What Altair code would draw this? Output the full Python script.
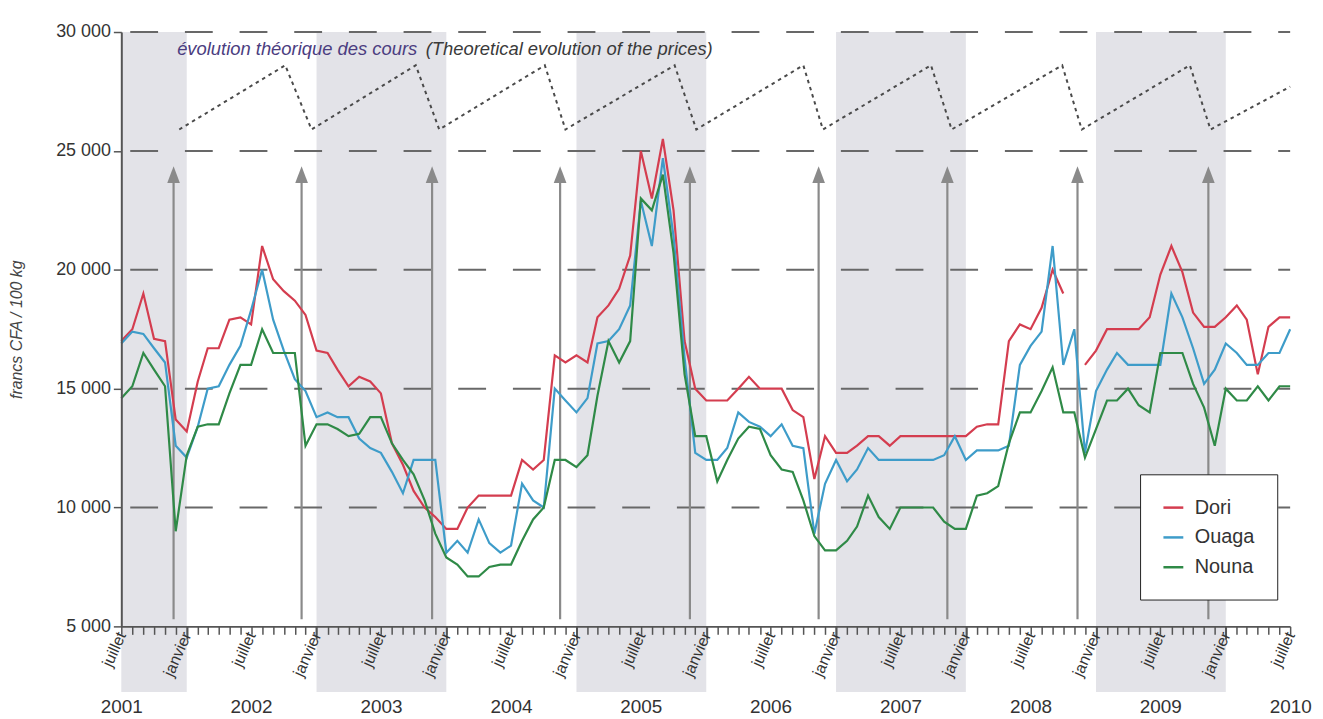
import altair as alt
import pandas as pd

FONT = "Liberation Sans Narrow, Arial Narrow, Liberation Sans, Arial, sans-serif"
ANN_FONT = "Liberation Sans, Arial, sans-serif"

# monthly observations, July 2001 .. July 2010
month_dates = [d.strftime("%Y-%m-%d") for d in pd.date_range("2001-07-01", "2010-07-01", freq="MS")]

cities = ["Dori", "Ouaga", "Nouna"]
city_colors = ["#d43d4f", "#3e9cc9", "#2f8a47"]

dori = [
    17000, 17500, 19000, 17100, 17000, 13700, 13200, 15300, 16700, 16700,
    17900, 18000, 17700, 21000, 19600, 19100, 18700, 18100, 16600, 16500,
    15800, 15100, 15500, 15300, 14800, 12700, 11800, 10700, 10000, 9600,
    9100, 9100, 10000, 10500, 10500, 10500, 10500, 12000, 11600, 12000,
    16400, 16100, 16400, 16100, 18000, 18500, 19200, 20600, 25000, 23000,
    25500, 22500, 17000, 15000, 14500, 14500, 14500, 15000, 15500, 15000,
    15000, 15000, 14100, 13800, 11200, 13000, 12300, 12300, 12600, 13000,
    13000, 12600, 13000, 13000, 13000, 13000, 13000, 13000, 13000, 13400,
    13500, 13500, 17000, 17700, 17500, 18400, 20000, 19000, None, 16000,
    16600, 17500, 17500, 17500, 17500, 18000, 19800, 21000, 19900, 18200,
    17600, 17600, 18000, 18500, 17900, 15600, 17600, 18000, 18000,
]
ouaga = [
    16900, 17400, 17300, 16700, 16100, 12600, 12100, 13400, 15000, 15100,
    16000, 16800, 18300, 20000, 17900, 16600, 15400, 14900, 13800, 14000,
    13800, 13800, 12900, 12500, 12300, 11500, 10600, 12000, 12000, 12000,
    8100, 8600, 8100, 9500, 8500, 8100, 8400, 11000, 10300, 10000,
    15000, 14500, 14000, 14600, 16900, 17000, 17500, 18500, 22900, 21000,
    24700, 21400, 16300, 12300, 12000, 12000, 12500, 14000, 13600, 13400,
    13000, 13500, 12600, 12500, 8900, 11000, 12000, 11100, 11600, 12500,
    12000, 12000, 12000, 12000, 12000, 12000, 12200, 13000, 12000, 12400,
    12400, 12400, 12600, 16000, 16800, 17400, 21000, 16000, 17500, 12300,
    14900, 15800, 16500, 16000, 16000, 16000, 16000, 19000, 18000, 16700,
    15200, 15800, 16900, 16500, 16000, 16000, 16500, 16500, 17500,
]
nouna = [
    14600, 15100, 16500, 15800, 15100, 9000, 12200, 13400, 13500, 13500,
    14800, 16000, 16000, 17500, 16500, 16500, 16500, 12600, 13500, 13500,
    13300, 13000, 13100, 13800, 13800, 12700, 12000, 11400, 10300, 8900,
    7900, 7600, 7100, 7100, 7500, 7600, 7600, 8600, 9500, 10000,
    12000, 12000, 11700, 12200, 14700, 17000, 16100, 17000, 23000, 22500,
    24000, 20700, 15600, 13000, 13000, 11100, 12000, 12900, 13400, 13300,
    12200, 11600, 11500, 10300, 8800, 8200, 8200, 8600, 9200, 10500,
    9600, 9100, 10000, 10000, 10000, 10000, 9400, 9100, 9100, 10500,
    10600, 10900, 12700, 14000, 14000, 14900, 15900, 14000, 14000, 12100,
    13300, 14500, 14500, 15000, 14300, 14000, 16500, 16500, 16500, 15200,
    14200, 12600, 15000, 14500, 14500, 15100, 14500, 15100, 15100,
]

# shaded periods
band_start = ["2001-07-01", "2003-01-01", "2005-01-01", "2007-01-01", "2009-01-01"]
band_end = ["2002-01-01", "2004-01-01", "2006-01-01", "2008-01-01", "2010-01-01"]

# vertical arrows
arrow_dates = ["2001-11-25", "2002-11-20", "2003-11-22", "2004-11-16", "2005-11-16",
               "2006-11-13", "2007-11-10", "2008-11-10", "2009-11-13"]
ARROW_FROM, ARROW_TO, ARROW_HEAD = 5300, 23700, 24000

# theoretical evolution of prices (dotted saw-tooth)
saw_dates = ["2001-12-11", "2002-10-05", "2002-12-18", "2003-10-07", "2003-12-12",
             "2004-10-04", "2004-12-01", "2005-10-04", "2005-12-04", "2006-10-01",
             "2006-11-25", "2007-09-25", "2007-11-22", "2008-09-28", "2008-11-22",
             "2009-09-22", "2009-11-19", "2010-07-01"]
saw_values = [25900, 28600, 25900, 28600, 25900, 28600, 25900, 28600, 25900, 28600,
              25900, 28600, 25900, 28600, 25900, 28600, 25900, 27700]

grid_values = [10000, 15000, 20000, 25000, 30000]
y_ticks = [5000, 10000, 15000, 20000, 25000, 30000]


def ms(d):
    return int(pd.Timestamp(d, tz="UTC").value // 10**6)


all_months = [ms(d) for d in month_dates]
jan_months = [ms(d) for d in month_dates if d[5:7] == "01"]
jul_months = [ms(d) for d in month_dates if d[5:7] == "07"]
half_years = [ms(d) for d in month_dates if d[5:7] in ("01", "07")]

rows = []
for city, vals in zip(cities, [dori, ouaga, nouna]):
    seg = 0
    for d, v in zip(month_dates, vals):
        if v is None:
            seg += 1
            continue
        rows.append({"date": d, "price": v, "city": city, "seg": f"{city}{seg}"})
prices = pd.DataFrame(rows)

bands_df = pd.DataFrame({"start": band_start, "end": band_end})
arrows_df = pd.DataFrame({"date": arrow_dates, "lo": ARROW_FROM, "hi": ARROW_TO, "head": ARROW_HEAD})
saw_df = pd.DataFrame({"date": saw_dates, "v": saw_values})
grid_df = pd.DataFrame({"v": grid_values})

xs = alt.Scale(type="utc", domain=[ms("2001-07-01"), ms("2010-07-01")])
ys = alt.Scale(domain=[5000, 30000], nice=False, zero=False)
AX = "#555555"

bands = alt.Chart(bands_df).mark_rect(color="#e3e3e8").encode(
    x=alt.X("start:T", scale=xs, axis=alt.Axis(
        orient="bottom", values=all_months, labels=False, tickSize=8, tickWidth=1.5,
        tickColor=AX, domainColor=AX, domainWidth=2, grid=False, title=None, zindex=1)),
    x2="end:T",
    y=alt.value(0),
    y2=alt.value(664),
)

grid = alt.Chart(grid_df).mark_rule(
    color="#686868", strokeWidth=2, strokeDash=[28, 27], strokeDashOffset=16
).encode(
    y=alt.Y("v:Q", scale=ys, axis=alt.Axis(
        values=y_ticks, labelExpr="replace(format(datum.value, ','), ',', ' ')",
        tickSize=8, tickWidth=1.5, tickColor=AX, domainColor=AX, domainWidth=2,
        grid=False, labelFont=FONT, labelFontSize=18, labelColor="#333333", labelPadding=3,
        title="francs CFA / 100 kg", titleFont=FONT, titleFontStyle="italic",
        titleFontWeight="normal", titleFontSize=16, titleColor="#444444",
        titleX=-105, titleY=299, titleAngle=270, titleBaseline="middle", zindex=1)),
)

arrows = alt.Chart(arrows_df).mark_rule(color="#8a8a8a", strokeWidth=2.2).encode(
    x=alt.X("date:T", scale=xs, axis=alt.Axis(
        orient="bottom", values=jan_months, labels=False, tickSize=13, tickWidth=2,
        tickColor=AX, domain=False, grid=False, title=None, zindex=1)),
    y=alt.Y("lo:Q", scale=ys, axis=None),
    y2="hi:Q",
)

heads = alt.Chart(arrows_df).mark_point(
    shape="M0,-1L0.75,1L-0.75,1Z", size=289, filled=True, color="#8a8a8a", opacity=1
).encode(
    x=alt.X("date:T", scale=xs, axis=None),
    y=alt.Y("head:Q", scale=ys, axis=None),
)

saw = alt.Chart(saw_df).mark_line(color="#4a4a4a", strokeWidth=2, strokeDash=[3.5, 4]).encode(
    x=alt.X("date:T", scale=xs, axis=alt.Axis(
        orient="bottom", values=half_years,
        labelExpr="utcmonth(datum.value) == 0 ? 'janvier' : 'juillet'",
        labelAngle=-66, labelAlign="right", labelBaseline="middle", labelPadding=6,
        ticks=False, tickSize=0, domain=False, grid=False, title=None,
        labelFont=FONT, labelFontSize=16, labelColor="#333333",
        labelOverlap=False, labelFlush=False, labelBound=False, zindex=1)),
    y=alt.Y("v:Q", scale=ys, axis=None),
)

lines = alt.Chart(prices).mark_line(strokeWidth=2.2).encode(
    x=alt.X("date:T", scale=xs, axis=alt.Axis(
        orient="bottom", values=jul_months, labelExpr="'' + utcyear(datum.value)",
        labelAngle=0, labelAlign="center", labelBaseline="top", labelPadding=72,
        ticks=False, tickSize=0, domain=False, grid=False, title=None,
        labelFont=FONT, labelFontSize=19, labelColor="#333333",
        labelOverlap=False, labelFlush=False, labelBound=False, zindex=1)),
    y=alt.Y("price:Q", scale=ys, axis=None),
    color=alt.Color("city:N", scale=alt.Scale(domain=cities, range=city_colors), legend=alt.Legend(
        orient="none", legendX=1025, legendY=445, title=None, strokeColor="#222222",
        fillColor="white", padding=22, labelFont=FONT, labelFontSize=20, labelColor="#333333",
        symbolType="stroke", symbolSize=400, symbolStrokeWidth=2.5, rowPadding=8, labelOffset=10)),
    detail="seg:N",
)

ann_df = pd.DataFrame({
    "date": ["2001-12-05", "2003-11-04"],
    "v": [29300, 29300],
    "txt": ["évolution théorique des cours", "(Theoretical evolution of the prices)"],
    "kind": ["fr", "en"],
})
ann_fr = alt.Chart(ann_df[ann_df.kind == "fr"]).mark_text(
    align="left", baseline="middle", font=ANN_FONT, fontSize=18.5, fontStyle="italic", color="#4b3d80"
).encode(x=alt.X("date:T", scale=xs, axis=None), y=alt.Y("v:Q", scale=ys, axis=None), text="txt:N")
ann_en = alt.Chart(ann_df[ann_df.kind == "en"]).mark_text(
    align="left", baseline="middle", font=ANN_FONT, fontSize=18.5, fontStyle="italic", color="#3a3a3a"
).encode(x=alt.X("date:T", scale=xs, axis=None), y=alt.Y("v:Q", scale=ys, axis=None), text="txt:N")

chart = (
    alt.layer(bands, grid, arrows, heads, saw, lines, ann_fr, ann_en)
    .resolve_axis(x="independent", y="independent")
    .properties(
        width=1176, height=598,
        autosize=alt.AutoSizeParams(type="none"),
        padding={"left": 114, "top": 22, "right": 25, "bottom": 88},
    )
    .configure_view(strokeWidth=0)
)

chart.save("out.html", embed_options={"renderer": "svg", "actions": False})
